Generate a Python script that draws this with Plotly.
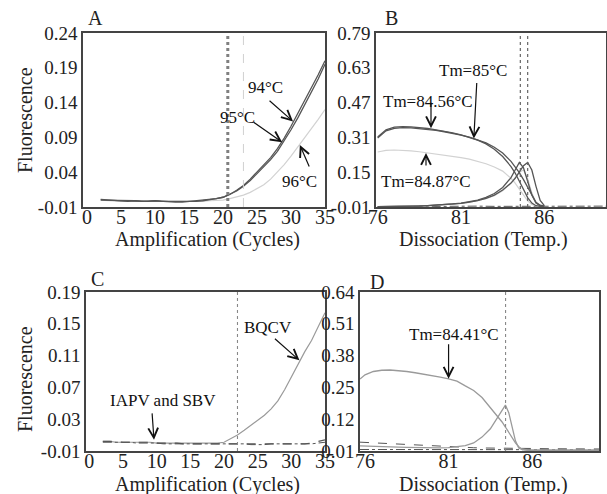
import plotly.graph_objects as go

W, H = 607, 494
FONT = "Liberation Serif"

# ---------------- Panel A: amplification at 94/95/96 °C ----------------
A_cycles = list(range(2, 36))
A_94 = [0.000, 0.000, -0.001, -0.001, -0.001, -0.001, -0.002, -0.001, -0.001, -0.002,
        -0.002, -0.002, -0.003, -0.002, -0.002, -0.001, 0.000, 0.002, 0.004, 0.008,
        0.014, 0.021, 0.030, 0.040, 0.050, 0.061, 0.074, 0.089, 0.106, 0.124,
        0.142, 0.161, 0.180, 0.200]
A_95 = [0.001, 0.000, -0.001, -0.001, -0.002, -0.001, -0.002, -0.002, -0.001, -0.002,
        -0.002, -0.003, -0.003, -0.002, -0.002, -0.001, 0.000, 0.002, 0.004, 0.008,
        0.013, 0.020, 0.028, 0.038, 0.048, 0.058, 0.070, 0.085, 0.101, 0.118,
        0.136, 0.155, 0.174, 0.195]
A_96 = [0.000, -0.001, -0.001, -0.002, -0.002, -0.002, -0.002, -0.002, -0.002, -0.003,
        -0.003, -0.003, -0.003, -0.003, -0.002, -0.002, -0.001, -0.001, 0.000, 0.002,
        0.004, 0.007, 0.011, 0.016, 0.022, 0.030, 0.040, 0.051, 0.063, 0.076,
        0.089, 0.102, 0.116, 0.130]
A_thresh_dark = 20.7
A_thresh_light = 23.0
A_xticks = [0, 5, 10, 15, 20, 25, 30, 35]
A_yticks = [-0.01, 0.04, 0.09, 0.14, 0.19, 0.24]
A_yticktext = ["-0.01", "0.04", "0.09", "0.14", "0.19", "0.24"]

# ---------------- Panel B: dissociation curves ----------------
B_temp = [76.0, 76.5, 77.0, 77.5, 78.0, 78.5, 79.0, 79.5, 80.0, 80.5, 81.0, 81.5, 82.0,
          82.5, 83.0, 83.5, 84.0, 84.25, 84.5, 84.75, 85.0, 85.25, 85.5, 85.75, 86.0]
B_melt_85 = [0.307, 0.340, 0.352, 0.355, 0.354, 0.351, 0.347, 0.342, 0.336, 0.329, 0.321,
             0.311, 0.299, 0.285, 0.265, 0.238, 0.200, 0.176, 0.148, 0.116, 0.080, 0.042,
             0.012, -0.002, -0.006]
B_melt_8456 = [0.312, 0.345, 0.357, 0.360, 0.358, 0.355, 0.351, 0.345, 0.339, 0.331, 0.322,
               0.311, 0.297, 0.280, 0.256, 0.222, 0.176, 0.146, 0.110, 0.070, 0.033, 0.008,
               -0.004, -0.007, -0.007]
B_melt_8487 = [0.243, 0.250, 0.252, 0.251, 0.248, 0.244, 0.239, 0.234, 0.229, 0.223, 0.217,
               0.210, 0.200, 0.189, 0.174, 0.155, 0.122, 0.100, 0.072, 0.042, 0.018, 0.002,
               -0.005, -0.007, -0.007]
B_deriv_85 = [-0.008, -0.008, -0.008, -0.008, -0.006, -0.005, -0.004, -0.002, 0.000, 0.003,
              0.007, 0.012, 0.019, 0.030, 0.045, 0.068, 0.100, 0.122, 0.150, 0.180, 0.195,
              0.160, 0.085, 0.020, -0.004]
B_deriv_8456 = [-0.008, -0.008, -0.008, -0.008, -0.007, -0.006, -0.004, -0.002, 0.001, 0.004,
                0.008, 0.014, 0.022, 0.034, 0.052, 0.080, 0.125, 0.160, 0.195, 0.170, 0.110,
                0.045, 0.008, -0.005, -0.007]
B_deriv_8487 = [-0.008, -0.008, -0.008, -0.008, -0.007, -0.006, -0.005, -0.003, -0.001, 0.002,
                0.006, 0.011, 0.018, 0.028, 0.042, 0.065, 0.100, 0.125, 0.150, 0.160, 0.120,
                0.055, 0.010, -0.004, -0.007]
B_noise_temp = [76, 77, 78, 79, 80, 81, 82, 83, 84, 85, 86, 87, 88, 89, 89.7]
B_noise = [-0.009, -0.008, -0.007, -0.007, -0.006, -0.006, -0.006, -0.007, -0.007, -0.007,
           -0.006, -0.006, -0.005, -0.006, -0.006]
B_tm = [84.56, 85.0]
B_xticks = [76, 81, 86]
B_yticks = [-0.01, 0.15, 0.31, 0.47, 0.63, 0.79]
B_yticktext = ["-0.01", "0.15", "0.31", "0.47", "0.63", "0.79"]

# ---------------- Panel C: multiplex amplification ----------------
C_cycles = list(range(2, 36))
C_bqcv = [0.002, 0.002, 0.001, 0.001, 0.001, 0.001, 0.001, 0.001, 0.000, 0.000,
          0.000, 0.000, 0.000, 0.000, 0.000, 0.000, 0.000, 0.000, 0.001, 0.005,
          0.010, 0.016, 0.022, 0.028, 0.035, 0.043, 0.053, 0.067, 0.083, 0.099,
          0.115, 0.129, 0.146, 0.164]
C_iapv = [0.002, 0.002, 0.002, 0.001, 0.001, 0.001, 0.001, 0.001, 0.000, 0.000,
          0.000, 0.000, -0.001, -0.001, -0.001, -0.001, -0.001, -0.001, -0.001, -0.001,
          -0.001, -0.001, -0.001, -0.001, -0.001, -0.001, -0.001, -0.001, -0.001, -0.001,
          -0.001, 0.000, 0.002, 0.004]
C_sbv = [0.001, 0.001, 0.001, 0.001, 0.001, 0.000, 0.000, 0.000, 0.000, -0.001,
         -0.001, -0.001, -0.001, -0.001, -0.001, -0.001, -0.001, -0.001, -0.001, -0.001,
         -0.001, -0.001, -0.002, -0.002, -0.002, -0.001, -0.001, -0.001, -0.001, -0.001,
         -0.001, -0.001, 0.000, 0.001]
C_thresh = 22.0
C_xticks = [0, 5, 10, 15, 20, 25, 30, 35]
C_yticks = [-0.01, 0.03, 0.07, 0.11, 0.15, 0.19]
C_yticktext = ["-0.01", "0.03", "0.07", "0.11", "0.15", "0.19"]

# ---------------- Panel D: BQCV dissociation ----------------
D_temp = [75.7, 76.0, 76.5, 77.0, 77.5, 78.0, 78.5, 79.0, 79.5, 80.0, 80.5, 81.0, 81.5,
          82.0, 82.5, 83.0, 83.5, 84.0, 84.2, 84.4, 84.6, 84.8, 85.0, 85.2, 85.4, 85.7,
          86.0, 87.0, 88.0, 89.0, 90.0]
D_melt = [0.295, 0.312, 0.325, 0.330, 0.331, 0.329, 0.325, 0.320, 0.315, 0.310, 0.303,
          0.296, 0.287, 0.268, 0.250, 0.222, 0.182, 0.143, 0.125, 0.105, 0.083, 0.062,
          0.042, 0.027, 0.018, 0.014, 0.013, 0.013, 0.013, 0.013, 0.013]
D_deriv = [0.030, 0.029, 0.028, 0.027, 0.026, 0.025, 0.024, 0.023, 0.022, 0.022, 0.022,
           0.023, 0.026, 0.031, 0.042, 0.065, 0.098, 0.150, 0.175, 0.192, 0.162, 0.105,
           0.050, 0.022, 0.016, 0.014, 0.013, 0.013, 0.013, 0.013, 0.013]
D_neg_a = [0.045, 0.044, 0.042, 0.040, 0.038, 0.036, 0.034, 0.032, 0.030, 0.029, 0.027,
           0.026, 0.025, 0.024, 0.023, 0.022, 0.022, 0.021, 0.021, 0.021, 0.021, 0.020,
           0.020, 0.020, 0.020, 0.020, 0.020, 0.019, 0.019, 0.019, 0.018]
D_neg_b = [0.016, 0.016, 0.016, 0.015, 0.015, 0.015, 0.015, 0.015, 0.015, 0.015, 0.015,
           0.015, 0.015, 0.015, 0.015, 0.015, 0.015, 0.015, 0.015, 0.015, 0.015, 0.015,
           0.015, 0.015, 0.015, 0.015, 0.015, 0.015, 0.015, 0.015, 0.015]
D_tm = 84.41
D_xticks = [76, 81, 86]
D_yticks = [0.01, 0.136, 0.262, 0.388, 0.514, 0.64]
D_yticktext = ["0.01", "0.12", "0.25", "0.38", "0.51", "0.64"]

DARK = "#555555"
LIGHT = "#d2d2d2"
MID = "#9a9a9a"

fig = go.Figure()


def add(x, y, xa, ya, color, width=1.2, dash="solid"):
    fig.add_trace(go.Scatter(x=x, y=y, xaxis=xa, yaxis=ya, mode="lines",
                             line=dict(color=color, width=width, dash=dash),
                             showlegend=False, hoverinfo="skip"))


# A
add(A_cycles, A_96, "x", "y", LIGHT, 1.2)
add(A_cycles, A_95, "x", "y", DARK, 1.3)
add(A_cycles, A_94, "x", "y", DARK, 1.3)
# B
add(B_noise_temp, B_noise, "x2", "y2", DARK, 1.0, "dashdot")
add(B_temp, B_melt_8487, "x2", "y2", LIGHT, 1.2)
add(B_temp, B_deriv_8487, "x2", "y2", LIGHT, 1.2)
add(B_temp, B_melt_85, "x2", "y2", DARK, 1.3)
add(B_temp, B_melt_8456, "x2", "y2", DARK, 1.3)
add(B_temp, B_deriv_85, "x2", "y2", DARK, 1.3)
add(B_temp, B_deriv_8456, "x2", "y2", DARK, 1.3)
# C
add(C_cycles, C_bqcv, "x3", "y3", MID, 1.2)
add(C_cycles, C_iapv, "x3", "y3", DARK, 1.2, "dash")
add(C_cycles, C_sbv, "x3", "y3", DARK, 1.0, "dashdot")
# D
add(D_temp, D_neg_a, "x4", "y4", DARK, 1.0, "dash")
add(D_temp, D_neg_b, "x4", "y4", DARK, 1.0, "dashdot")
add(D_temp, D_melt, "x4", "y4", MID, 1.3)
add(D_temp, D_deriv, "x4", "y4", MID, 1.3)

shapes = []


def vline(x, xref, yref, color, width, dash):
    shapes.append(dict(type="line", xref=xref, yref=yref + " domain", x0=x, x1=x, y0=0, y1=1,
                       line=dict(color=color, width=width, dash=dash)))


vline(A_thresh_dark, "x", "y", "#808080", 3, "dot")
vline(A_thresh_light, "x", "y", "#d0d0d0", 1, "dash")
for t in B_tm:
    vline(t, "x2", "y2", "#666666", 1.2, "dot")
vline(C_thresh, "x3", "y3", "#888888", 1.1, "dot")
vline(D_tm, "x4", "y4", "#888888", 1.1, "dot")


def px_x(p):
    return p / W


def px_y(p):
    return 1 - p / H


def axis_common(size):
    return dict(showline=True, mirror=True, linecolor="#444444", linewidth=1.5,
                showgrid=False, zeroline=False, ticks="",
                tickfont=dict(family=FONT, size=size, color="#222222"),
                automargin=False)


def xaxis_common():
    d = axis_common(20)
    d["ticklabelstandoff"] = -9
    return d


def yaxis_common():
    return axis_common(19)


layout = dict(
    width=W, height=H, margin=dict(l=0, r=0, t=0, b=0, autoexpand=False),
    paper_bgcolor="white", plot_bgcolor="white",
    font=dict(family=FONT, color="#222222"),
    xaxis=dict(domain=[px_x(83), px_x(325)], range=[-0.6, 35], anchor="y",
               tickvals=A_xticks, **xaxis_common()),
    yaxis=dict(domain=[px_y(207), px_y(33)], range=[-0.01, 0.24], anchor="x",
               tickvals=A_yticks, ticktext=A_yticktext, **yaxis_common()),
    xaxis2=dict(domain=[px_x(376), px_x(606)], range=[75.9, 89.7], anchor="y2",
                tickvals=B_xticks, **xaxis_common()),
    yaxis2=dict(domain=[px_y(207), px_y(33)], range=[-0.01, 0.79], anchor="x2",
                tickvals=B_yticks, ticktext=B_yticktext, **yaxis_common()),
    xaxis3=dict(domain=[px_x(86), px_x(325)], range=[-0.5, 35], anchor="y3",
                tickvals=C_xticks, **xaxis_common()),
    yaxis3=dict(domain=[px_y(451), px_y(292)], range=[-0.01, 0.19], anchor="x3",
                tickvals=C_yticks, ticktext=C_yticktext, **yaxis_common()),
    xaxis4=dict(domain=[px_x(360), px_x(599)], range=[75.7, 90], anchor="y4",
                tickvals=D_xticks, **xaxis_common()),
    yaxis4=dict(domain=[px_y(451), px_y(292)], range=[0.01, 0.64], anchor="x4",
                tickvals=D_yticks, ticktext=D_yticktext, **yaxis_common()),
    shapes=shapes,
)
fig.update_layout(**layout)

ann = []


def ptext(text, x, y, size=20, angle=0):
    ann.append(dict(text=text, xref="paper", yref="paper", x=px_x(x), y=px_y(y),
                    showarrow=False, xanchor="center", yanchor="middle", textangle=angle,
                    font=dict(family=FONT, size=size, color="#222222")))


def dtext(text, xr, yr, x, y, size=17):
    ann.append(dict(text=text, xref=xr, yref=yr, x=x, y=y, showarrow=False,
                    xanchor="center", yanchor="middle",
                    font=dict(family=FONT, size=size, color="#111111")))


def arrow(xr, yr, x, y, ax, ay):
    ann.append(dict(text="", xref=xr, yref=yr, x=x, y=y, ax=ax, ay=ay, showarrow=True,
                    arrowhead=5, arrowsize=1.6, arrowwidth=1.2, arrowcolor="#111111",
                    standoff=0, startstandoff=0))


# panel letters & titles
ptext("A", 96, 18)
ptext("B", 391, 18)
ptext("C", 98, 279)
ptext("D", 377, 282)
ptext("Amplification (Cycles)", 207, 239)
ptext("Dissociation (Temp.)", 483, 239)
ptext("Amplification (Cycles)", 207, 484)
ptext("Dissociation (Temp.)", 483, 484)
ptext("Fluorescence", 25, 120, angle=-90)
ptext("Fluorescence", 25, 379, angle=-90)

# A labels
dtext("94°C", "x", "y", 26.2, 0.162)
arrow("x", "y", 30.3, 0.113, -25, -22)
dtext("95°C", "x", "y", 22.2, 0.119)
arrow("x", "y", 28.7, 0.083, -30, -21)
dtext("96°C", "x", "y", 31.2, 0.026)
arrow("x", "y", 31.3, 0.079, 10, 23)
# B labels
dtext("Tm=85°C", "x2", "y2", 81.7, 0.616)
arrow("x2", "y2", 81.77, 0.305, 3, -57)
dtext("Tm=84.56°C", "x2", "y2", 79.0, 0.473)
arrow("x2", "y2", 79.2, 0.352, 0, -27)
dtext("Tm=84.87°C", "x2", "y2", 78.9, 0.105)
arrow("x2", "y2", 78.9, 0.238, 0, 14)
# C labels
dtext("BQCV", "x3", "y3", 26.6, 0.145)
arrow("x3", "y3", 31.2, 0.104, -26, -23)
dtext("IAPV and SBV", "x3", "y3", 11.0, 0.053)
arrow("x3", "y3", 9.6, 0.004, -2, -28)
# D labels
dtext("Tm=84.41°C", "x4", "y4", 81.3, 0.473)
arrow("x4", "y4", 81.0, 0.296, 0, -36)

fig.update_layout(annotations=ann)
fig.write_html("out.html", config={"displayModeBar": False},
               post_script="document.body.style.margin='0';document.body.style.overflow='hidden';")
